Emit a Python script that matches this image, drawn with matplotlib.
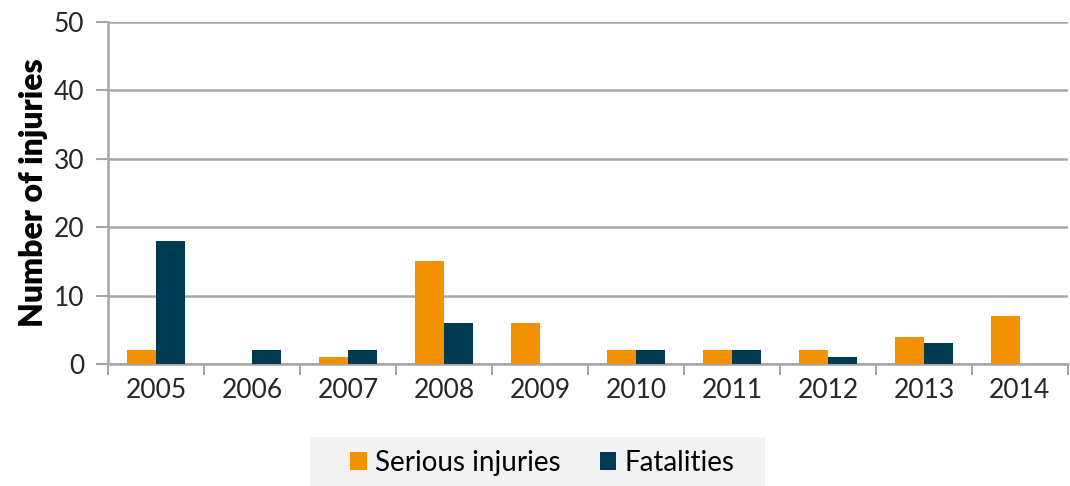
import numpy as np
import matplotlib.pyplot as plt
from matplotlib.patches import Rectangle

plt.rcParams['font.family'] = ['Lato', 'DejaVu Sans']

years = ['2005', '2006', '2007', '2008', '2009', '2010', '2011', '2012', '2013', '2014']
serious = [2, 0, 1, 15, 6, 2, 2, 2, 4, 7]
fatalities = [18, 2, 2, 6, 0, 2, 2, 1, 3, 0]

fig = plt.figure(figsize=(10.7, 4.86), dpi=100)
ax = fig.add_axes([0.101, 0.251, 0.897, 0.704])

x = np.arange(len(years))
w = 0.30
ax.bar(x - w/2, serious, w, color='#F39200', label='Serious injuries', zorder=3)
ax.bar(x + w/2, fatalities, w, color='#003A52', label='Fatalities', zorder=3)

grid_c = '#a6a6a6'
ax.set_ylim(0, 50)
ax.set_yticks(range(0, 51, 10))
ax.set_xlim(-0.5, len(years) - 0.5)
ax.set_xticks(x)
ax.set_xticklabels(years)
ax.set_xticks(np.arange(-0.5, len(years), 1), minor=True)
ax.tick_params(axis='x', which='major', length=0, labelsize=19, pad=10, colors='#262626')
ax.tick_params(axis='x', which='minor', length=8, width=1.5, color=grid_c)
ax.tick_params(axis='y', length=9, width=1.5, color=grid_c, labelsize=19, pad=8, labelcolor='#262626')
ax.yaxis.grid(True, color=grid_c, linewidth=1.8, zorder=0)
ax.set_axisbelow(True)
for s in ['top', 'right']:
    ax.spines[s].set_visible(False)
for s in ['left', 'bottom']:
    ax.spines[s].set_color(grid_c)
    ax.spines[s].set_linewidth(1.8)

ax.set_ylabel('Number of injuries', fontsize=23, fontweight='heavy', labelpad=4)

# legend background panel
fig.patches.append(Rectangle((0.2897, 0.0), 0.4252, 0.1008, transform=fig.transFigure,
                             facecolor='#f2f2f2', edgecolor='none', zorder=0))
leg = fig.legend(loc='center', bbox_to_anchor=(0.507, 0.048), ncol=2, fontsize=20,
                 frameon=False, handlelength=0.6, handleheight=0.6,
                 handletextpad=0.3, columnspacing=1.4, borderpad=0.2)

fig.savefig('out.png', dpi=100)
